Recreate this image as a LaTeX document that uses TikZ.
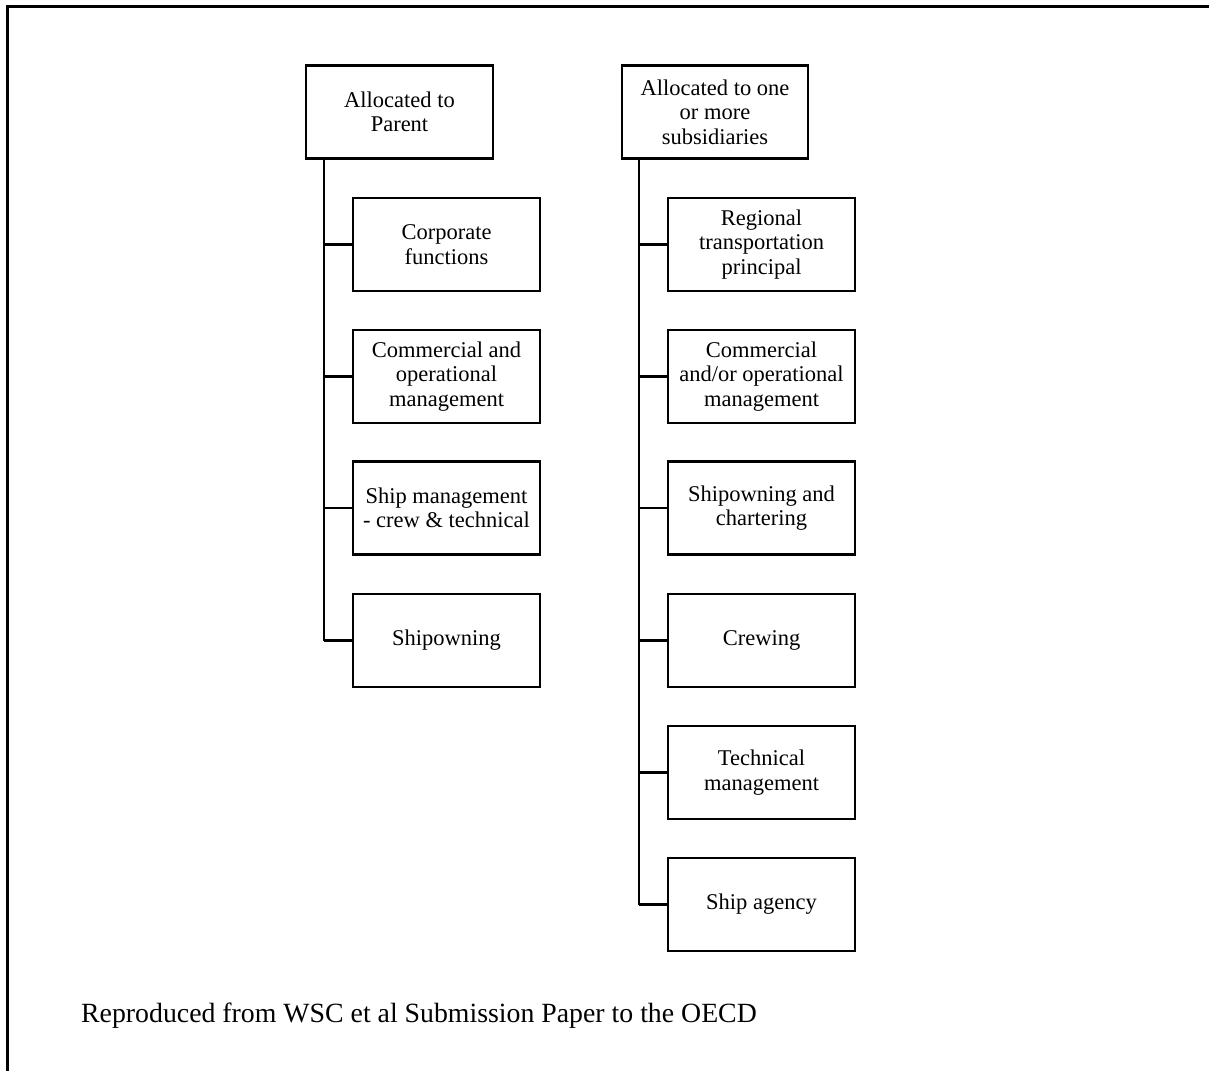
\documentclass[tikz,border=0pt]{standalone}
\usepackage{fontspec}
\setmainfont{Liberation Serif}
\begin{document}
\begin{tikzpicture}[x=1pt,y=-1pt,
  box/.style={draw,line width=2.2pt,minimum width=187pt,minimum height=93pt,inner sep=0pt,
    align=center,font=\fontsize{22.5}{24.5}\selectfont},
  trunk/.style={line width=2.8pt},
  branch/.style={line width=2.2pt}]
\useasboundingbox (0,0) rectangle (1209,1070);
% frame
\draw[line width=3pt] (7,1072) -- (7,7) -- (1212,7);
% left column
\node[box] (lp) at (399.5,112) {Allocated to\\Parent};
\node[box] (l1) at (446.5,244.5) {Corporate\\functions};
\node[box] (l2) at (446.5,376.5) {Commercial and\\operational\\management};
\node[box] (l3) at (446.5,508) {Ship management\\- crew \& technical};
\node[box] (l4) at (446.5,640.5) {Shipowning};
% right column
\node[box,minimum width=186pt] (rp) at (715,112) {Allocated to one\\or more\\subsidiaries};
\node[box] (r1) at (761.5,244.5) {Regional\\transportation\\principal};
\node[box] (r2) at (761.5,376.5) {Commercial\\and/or operational\\management};
\node[box] (r3) at (761.5,508) {Shipowning and\\chartering};
\node[box] (r4) at (761.5,640.5) {Crewing};
\node[box] (r5) at (761.5,772.5) {Technical\\management};
\node[box] (r6) at (761.5,904.5) {Ship agency};
% connectors
\coordinate (lt) at ([xshift=19pt]lp.south west);
\coordinate (rt) at ([xshift=18pt]rp.south west);
\draw[trunk] (lt) -- (lt |- l4.west);
\foreach \c in {l1,l2,l3,l4} \draw[branch] (lt |- \c.west) -- (\c.west);
\draw[trunk] (rt) -- (rt |- r6.west);
\foreach \c in {r1,r2,r3,r4,r5,r6} \draw[branch] (rt |- \c.west) -- (\c.west);
% footer
\node[anchor=base west,inner sep=0pt,font=\fontsize{27.8}{30}\selectfont] (foot) at (81,1022)
  {Reproduced from WSC et al Submission Paper to the OECD};
\end{tikzpicture}
\end{document}
